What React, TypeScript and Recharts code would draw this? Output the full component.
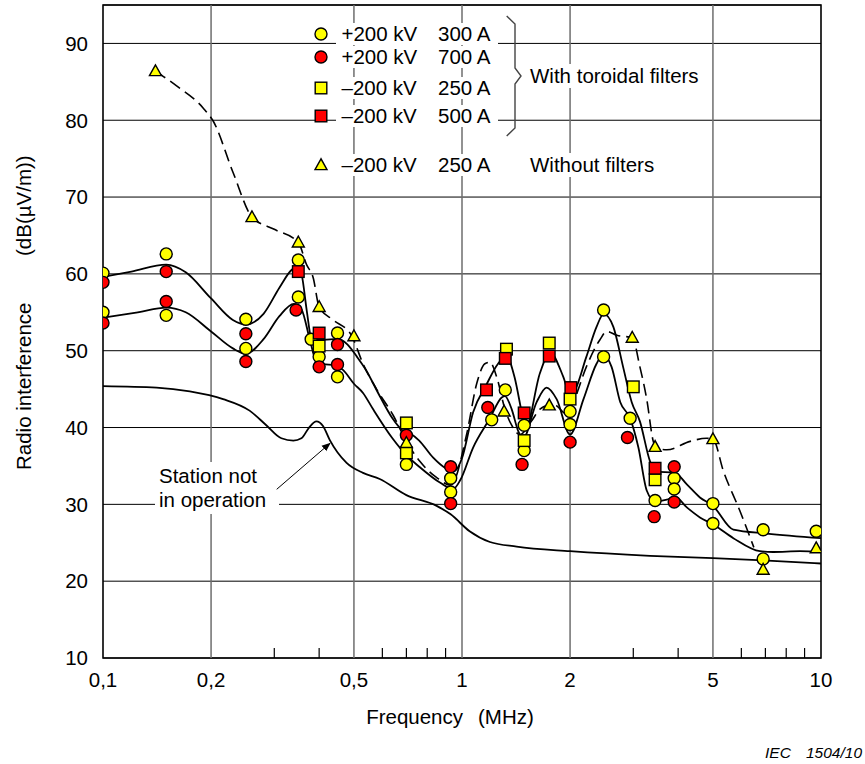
import React from 'react';
import {
  ComposedChart, Line, Scatter, XAxis, YAxis, CartesianGrid,
  ReferenceLine, ReferenceArea,
} from 'recharts';

const W = 865;
const H = 764;
const FONT = '"Liberation Sans", Arial, Helvetica, sans-serif';
const YELLOW = '#ffff00';
const RED = '#ff0000';

// axis ticks
const majorTicks = [0.1, 0.2, 0.5, 1, 2, 5, 10];
const majorLabels = ['0,1', '0,2', '0,5', '1', '2', '5', '10'];
const minorTicks = [0.3, 0.4, 0.6, 0.7, 0.8, 0.9, 3, 4, 6, 7, 8, 9];
const gridX = [0.2, 0.5, 1, 2, 5];
const yTicks = [10, 20, 30, 40, 50, 60, 70, 80, 90];

// measured points [MHz, dB]
const yellowCircles = [
  [0.1, 60.1], [0.1, 55.0], [0.15, 62.6], [0.15, 54.6], [0.25, 54.1], [0.25, 50.3],
  [0.35, 61.8], [0.35, 57.0], [0.38, 51.5], [0.4, 49.2], [0.45, 52.3], [0.45, 46.6],
  [0.7, 35.2], [0.93, 33.4], [0.93, 31.6], [1.21, 41.0], [1.32, 44.9], [1.49, 40.3],
  [1.49, 37.0], [2.0, 42.1], [2.0, 40.4], [2.48, 55.3], [2.48, 49.2], [2.94, 41.2],
  [3.45, 30.5], [3.9, 33.4], [3.9, 32.0], [5.0, 30.1], [5.0, 27.5], [6.9, 26.7],
  [6.9, 22.9], [9.7, 26.5],
];
const redCircles = [
  [0.1, 58.9], [0.1, 53.6], [0.15, 60.3], [0.15, 56.4], [0.25, 52.2], [0.25, 48.6],
  [0.345, 55.3], [0.4, 47.9], [0.45, 50.8], [0.45, 48.2], [0.7, 39.0], [0.93, 34.9],
  [0.93, 30.1], [1.18, 42.6], [1.47, 35.2], [2.0, 38.1], [2.89, 38.7], [3.43, 28.4],
  [3.9, 34.9], [3.9, 30.3],
];
const yellowSquares = [
  [0.4, 50.6], [0.7, 40.6], [0.7, 36.7], [1.33, 50.2], [1.49, 38.3], [1.75, 51.0],
  [2.0, 43.7], [3.0, 45.3], [3.45, 33.2],
];
const redSquares = [
  [0.35, 60.3], [0.4, 52.3], [1.17, 44.9], [1.32, 49.0], [1.49, 41.9], [1.75, 49.3],
  [2.01, 45.2], [3.45, 34.7],
];
const triangles = [
  [0.14, 86.4], [0.26, 67.4], [0.35, 64.1], [0.4, 55.7], [0.5, 51.9], [0.7, 38.0],
  [1.31, 42.1], [1.75, 42.9], [2.98, 51.7], [3.45, 37.5], [5.0, 38.5], [6.9, 21.5],
  [9.7, 24.3],
];

// curves
const upperCurve = [
  [0.1, 59.6], [0.12, 60.3], [0.15, 61.2], [0.17, 60.2], [0.2, 56.8], [0.23, 54.0],
  [0.25, 53.4], [0.28, 54.8], [0.31, 58.2], [0.335, 60.5], [0.35, 61.0], [0.358, 59.8],
  [0.37, 55.0], [0.38, 51.8], [0.4, 51.4], [0.44, 51.5], [0.46, 51.4], [0.48, 50.8],
  [0.51, 49.2], [0.54, 47.5], [0.59, 44.1], [0.64, 41.2], [0.68, 39.7], [0.72, 39.2],
  [0.76, 38.3], [0.83, 36.1], [0.9, 34.7], [0.95, 34.3], [1.0, 36.0], [1.074, 42.0],
  [1.17, 45.6], [1.26, 48.3], [1.33, 49.3], [1.4, 46.6], [1.466, 42.0], [1.5, 39.7],
  [1.649, 47.1], [1.758, 49.8], [1.915, 46.6], [2.0, 44.3], [2.04, 44.5], [2.22, 49.2],
  [2.37, 53.1], [2.48, 54.8], [2.64, 53.1], [2.81, 47.9], [2.97, 43.3], [3.13, 40.8],
  [3.34, 35.6], [3.45, 34.3], [3.92, 34.1], [4.23, 32.6], [4.6, 30.9], [5.0, 29.8],
  [5.7, 26.7], [7.06, 26.2], [10, 25.6],
];
const lowerCurve = [
  [0.1, 54.3], [0.125, 55.0], [0.15, 55.6], [0.17, 55.0], [0.2, 52.5], [0.23, 50.3],
  [0.25, 49.6], [0.28, 51.5], [0.31, 54.5], [0.34, 56.1], [0.357, 55.4], [0.377, 51.4],
  [0.39, 49.0], [0.41, 48.3], [0.442, 48.1], [0.466, 47.5], [0.5, 45.7], [0.53, 44.5],
  [0.565, 42.4], [0.64, 38.6], [0.7, 36.4], [0.76, 34.9], [0.87, 32.8], [0.945, 32.0],
  [0.99, 33.2], [1.074, 37.4], [1.196, 41.2], [1.29, 43.9], [1.317, 44.1], [1.375, 42.4],
  [1.435, 39.5], [1.48, 38.6], [1.614, 43.3], [1.72, 45.2], [1.835, 43.7], [2.0, 39.1],
  [2.18, 43.7], [2.37, 48.3], [2.47, 49.5], [2.61, 47.9], [2.76, 43.3], [2.94, 41.2],
  [3.1, 37.4], [3.27, 31.8], [3.45, 30.4], [3.72, 30.6], [3.92, 31.0], [4.23, 29.6],
  [4.6, 28.3], [5.0, 27.4], [5.7, 25.6], [6.76, 23.9], [7.36, 23.8], [8.74, 23.9],
  [10, 23.8],
];
const noFilterCurve = [
  [0.14, 86.4], [0.16, 84.5], [0.19, 81.6], [0.2027, 79.9], [0.2303, 73.2], [0.26, 67.4],
  [0.3, 65.8], [0.35, 64.1], [0.369, 61.2], [0.385, 59.5], [0.4, 55.7], [0.4375, 54.0],
  [0.492, 52.0], [0.53, 48.3], [0.578, 45.0], [0.643, 41.6], [0.7, 38.2], [0.763, 35.6],
  [0.849, 33.5], [0.93, 32.5], [1.03, 39.1], [1.1, 45.8], [1.158, 48.3], [1.196, 48.5],
  [1.249, 46.6], [1.317, 42.4], [1.375, 40.3], [1.45, 39.1], [1.56, 40.8], [1.649, 42.4],
  [1.75, 42.9], [1.815, 42.9], [1.95, 41.8], [2.05, 43.5], [2.22, 47.9], [2.42, 51.4],
  [2.53, 52.5], [2.7, 52.0], [2.98, 51.7], [3.13, 47.9], [3.27, 43.7], [3.41, 38.2],
  [3.45, 37.5], [3.72, 37.1], [4.32, 38.2], [4.8, 38.6], [5.0, 38.5], [5.35, 34.3],
  [5.95, 29.1], [6.5, 24.4],
];
const stationOffCurve = [
  [0.1, 45.4], [0.141, 45.2], [0.1745, 44.7], [0.216, 43.7], [0.256, 42.2], [0.285, 40.3],
  [0.314, 38.6], [0.339, 38.3], [0.357, 38.6], [0.375, 40.0], [0.393, 40.8], [0.41, 40.2],
  [0.428, 38.4], [0.477, 35.4], [0.53, 34.1], [0.59, 33.3], [0.7, 31.2], [0.85, 29.8],
  [0.93, 28.7], [1.05, 26.5], [1.196, 25.1], [1.42, 24.5], [2.0, 23.9], [3.34, 23.3],
  [5.0, 23.0], [6.9, 22.7], [10, 22.3],
];

const pts = (arr: number[][]) => arr.map(([x, y]) => ({ x, y }));

const Dot = ({ cx, cy, fill }: any) => (
  <circle cx={cx} cy={cy} r={6} fill={fill} stroke="#000" strokeWidth={1.4} />
);
const Sq = ({ cx, cy, fill }: any) => (
  <rect x={cx - 5.8} y={cy - 5.8} width={11.6} height={11.6} fill={fill} stroke="#000" strokeWidth={1.4} />
);
const Tri = ({ cx, cy, fill }: any) => (
  <polygon
    points={`${cx},${cy - 6.2} ${cx - 6},${cy + 4.6} ${cx + 6},${cy + 4.6}`}
    fill={fill} stroke="#000" strokeWidth={1.4} strokeLinejoin="miter"
  />
);

const XTick = (props: any) => {
  const { x, y, payload } = props;
  const i = majorTicks.indexOf(payload.value);
  if (i < 0) {
    return <line x1={x} x2={x} y1={y} y2={y - 10} stroke="#000" strokeWidth={1.2} />;
  }
  return (
    <text x={x} y={y + 29} textAnchor="middle" fontSize={20.5} fontFamily={FONT} fill="#000">
      {majorLabels[i]}
    </text>
  );
};

const YTick = (props: any) => {
  const { x, y, payload } = props;
  return (
    <text x={x - 15} y={y + 7.3} textAnchor="end" fontSize={20.5} fontFamily={FONT} fill="#000">
      {payload.value}
    </text>
  );
};

const legendRows = [
  { shape: 'dot', fill: YELLOW, kv: '+200 kV', amp: '300 A', cy: 34 },
  { shape: 'dot', fill: RED, kv: '+200 kV', amp: '700 A', cy: 57 },
  { shape: 'sq', fill: YELLOW, kv: '\u2013200 kV', amp: '250 A', cy: 88 },
  { shape: 'sq', fill: RED, kv: '\u2013200 kV', amp: '500 A', cy: 116 },
  { shape: 'tri', fill: YELLOW, kv: '\u2013200 kV', amp: '250 A', cy: 165 },
];

function Overlay() {
  const t = { fontFamily: FONT, fontSize: 20.5, fill: '#000' };
  return (
    <svg
      width={W}
      height={H}
      style={{ position: 'absolute', left: 0, top: 0, pointerEvents: 'none' }}
    >
      <defs>
        <marker id="ah" viewBox="0 0 10 10" refX="9" refY="5" markerWidth="9" markerHeight="9" orient="auto">
          <path d="M0,1 L10,5 L0,9 z" fill="#000" />
        </marker>
      </defs>
      {/* legend */}
      {legendRows.map((r) => (
        <g key={r.cy + r.amp}>
          <rect x={336} y={r.cy - 11} width={162} height={22} fill="#fff" />
          {r.shape === 'dot' && <Dot cx={321} cy={r.cy} fill={r.fill} />}
          {r.shape === 'sq' && <Sq cx={321} cy={r.cy} fill={r.fill} />}
          {r.shape === 'tri' && <Tri cx={321} cy={r.cy} fill={r.fill} />}
          <text x={341.5} y={r.cy + 7.3} {...t}>{r.kv}</text>
          <text x={438} y={r.cy + 7.3} {...t}>{r.amp}</text>
        </g>
      ))}
      <path
        d="M506.7,16 L515,24 L515,68 L521,76 L515,84 L515,128 L506.7,136"
        fill="none" stroke="#444" strokeWidth={1.4}
      />
      <rect x={526} y={64} width={182} height={24} fill="#fff" />
      <text x={530} y={83} {...t}>With toroidal filters</text>
      <rect x={526} y={153} width={138} height={24} fill="#fff" />
      <text x={530} y={172} {...t}>Without filters</text>

      {/* annotation */}
      <rect x={155} y={462} width={124} height={52} fill="#fff" />
      <text x={159} y={483} {...t}>Station not</text>
      <text x={159} y={507} {...t}>in operation</text>
      <line x1={276.7} y1={489.3} x2={330} y2={443.3} stroke="#000" strokeWidth={1} markerEnd="url(#ah)" />

      {/* axis titles */}
      <text transform="translate(31,470) rotate(-90)" textAnchor="start" {...t}>Radio interference</text>
      <text transform="translate(31,256) rotate(-90)" textAnchor="start" {...t}>(dB(µV/m))</text>
      <text x={463} y={724} textAnchor="end" {...t}>Frequency</text>
      <text x={478} y={724} {...t}>(MHz)</text>
      <text x={765} y={758} fontFamily={FONT} fontSize={15.5} fontStyle="italic" fill="#000">IEC</text>
      <text x={806} y={758} fontFamily={FONT} fontSize={15.5} fontStyle="italic" fill="#000">1504/10</text>
    </svg>
  );
}

export default function App() {
  return (
    <div style={{ position: 'absolute', left: 0, top: 0, width: W, height: H, background: '#fff' }}>
      <ComposedChart width={W} height={H} margin={{ top: 5, right: 44, bottom: 0, left: 0 }}>
        <CartesianGrid vertical={false} stroke="#000" strokeWidth={1} />
        <XAxis
          dataKey="x" type="number" scale="log" domain={[0.1, 10]} allowDataOverflow
          ticks={[...majorTicks, ...minorTicks].sort((a, b) => a - b)}
          interval={0} height={106} tickSize={0} tickMargin={0}
          axisLine={false} tickLine={false} tick={<XTick />}
        />
        <YAxis
          dataKey="y" type="number" domain={[10, 95]} allowDataOverflow ticks={yTicks}
          interval={0} width={103} tickSize={0} tickMargin={0}
          axisLine={false} tickLine={false} tick={<YTick />}
        />
        {gridX.map((v) => (
          <ReferenceLine key={v} x={v} stroke="#6e6e6e" strokeWidth={1.5} />
        ))}
        <ReferenceArea x1={0.1} x2={10} y1={10} y2={95} fill="none" fillOpacity={0} stroke="#000" strokeWidth={1.6} />

        <Line data={pts(stationOffCurve)} dataKey="y" type="monotone" stroke="#000" strokeWidth={1.8} dot={false} activeDot={false} isAnimationActive={false} />
        <Line data={pts(lowerCurve)} dataKey="y" type="monotone" stroke="#000" strokeWidth={1.8} dot={false} activeDot={false} isAnimationActive={false} />
        <Line data={pts(upperCurve)} dataKey="y" type="monotone" stroke="#000" strokeWidth={1.8} dot={false} activeDot={false} isAnimationActive={false} />
        <Line data={pts(noFilterCurve)} dataKey="y" type="monotone" stroke="#000" strokeWidth={1.6} strokeDasharray="12 6" dot={false} activeDot={false} isAnimationActive={false} />

        <Scatter data={pts(yellowCircles)} dataKey="y" isAnimationActive={false} shape={(p: any) => <Dot cx={p.cx} cy={p.cy} fill={YELLOW} />} />
        <Scatter data={pts(yellowSquares)} dataKey="y" isAnimationActive={false} shape={(p: any) => <Sq cx={p.cx} cy={p.cy} fill={YELLOW} />} />
        <Scatter data={pts(redCircles)} dataKey="y" isAnimationActive={false} shape={(p: any) => <Dot cx={p.cx} cy={p.cy} fill={RED} />} />
        <Scatter data={pts(redSquares)} dataKey="y" isAnimationActive={false} shape={(p: any) => <Sq cx={p.cx} cy={p.cy} fill={RED} />} />
        <Scatter data={pts(triangles)} dataKey="y" isAnimationActive={false} shape={(p: any) => <Tri cx={p.cx} cy={p.cy} fill={YELLOW} />} />
      </ComposedChart>
      <Overlay />
    </div>
  );
}
